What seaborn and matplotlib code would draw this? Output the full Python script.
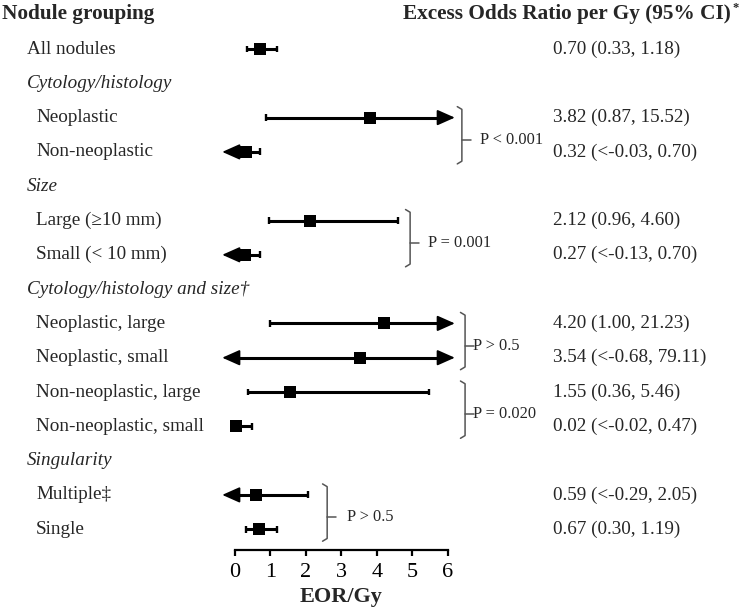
import numpy as np
import matplotlib
matplotlib.use("Agg")
import matplotlib.pyplot as plt
import matplotlib.transforms as mtransforms
import seaborn as sns

# rows of the forest plot (top to bottom)
row_labels = [
    "All nodules", "Cytology/histology", "Neoplastic", "Non-neoplastic",
    "Size", "Large (\u226510 mm)", "Small (< 10 mm)",
    "Cytology/histology and size\u2020", "Neoplastic, large", "Neoplastic, small",
    "Non-neoplastic, large", "Non-neoplastic, small",
    "Singularity", "Multiple\u2021", "Single",
]
is_header = [False, True, False, False, True, False, False, True,
             False, False, False, False, True, False, False]
nan = np.nan
eor = [0.70, nan, 3.82, 0.32, nan, 2.12, 0.27, nan, 4.20, 3.54, 1.55, 0.02, nan, 0.59, 0.67]
ci_lo = [0.33, nan, 0.87, -0.03, nan, 0.96, -0.13, nan, 1.00, -0.68, 0.36, -0.02, nan, -0.29, 0.30]
ci_hi = [1.18, nan, 15.52, 0.70, nan, 4.60, 0.70, nan, 21.23, 79.11, 5.46, 0.47, nan, 2.05, 1.19]
lo_is_bound = [False, False, False, True, False, False, True, False,
               False, True, False, True, False, True, False]
# left arrows drawn in the figure (non-neoplastic small has none)
arrow_left = [False, False, False, True, False, False, True, False,
              False, True, False, False, False, True, False]

# p-value brackets: (first row, second row, bracket x, text x, text)
p_groups = [
    (2, 3, 6.40, 6.91, "P < 0.001"),
    (5, 6, 4.94, 5.44, "P = 0.001"),
    (8, 9, 6.49, 6.71, "P > 0.5"),
    (10, 11, 6.49, 6.71, "P = 0.020"),
    (13, 14, 2.60, 3.16, "P > 0.5"),
]

sns.set_style("white")
serif = ["Liberation Serif", "DejaVu Serif"]
plt.rcParams["font.family"] = serif

W, H = 742, 616
fig = plt.figure(figsize=(W / 100, H / 100), dpi=100)
ax = fig.add_axes([0, 0, 1, 1])
ax.patch.set_alpha(0)

px_unit = 35.45
x0_px = 235
row0_px, row_step = 49, 34.3


def row_y(px):
    return (px - row0_px) / row_step


ax.set_xlim(-x0_px / px_unit, (W - x0_px) / px_unit)
ax.set_ylim(row_y(H), row_y(0))

lw = 2.2
x_min_tip, x_max_tip, x_max = -0.36, 6.2, 6.0
arrow_kw = dict(arrowstyle="-|>,head_length=0.9,head_width=0.4", mutation_scale=12,
                color="black", lw=1.3, shrinkA=0, shrinkB=0)

for i in range(len(row_labels)):
    if is_header[i]:
        continue
    lo, hi = ci_lo[i], ci_hi[i]
    left = x_min_tip + 0.3 if arrow_left[i] else lo
    right = x_max_tip - 0.3 if hi > x_max else hi
    ax.hlines(i, left, right, color="black", lw=lw, zorder=2)
    if arrow_left[i]:
        ax.annotate("", xy=(x_min_tip, i), xytext=(left + 0.05, i), arrowprops=arrow_kw)
    else:
        ax.vlines(lo, i - 0.1, i + 0.1, color="black", lw=1.7)
    if hi > x_max:
        ax.annotate("", xy=(x_max_tip, i), xytext=(right - 0.05, i), arrowprops=arrow_kw)
    else:
        ax.vlines(hi, i - 0.1, i + 0.1, color="black", lw=1.7)

rows_idx = np.arange(len(row_labels))
sns.scatterplot(x=eor, y=rows_idx, marker="s", s=64, color="black",
                edgecolor="black", linewidth=0, ax=ax, legend=False, zorder=3)

# brackets
gray = "#555555"
for a, b, bx, tx, ptxt in p_groups:
    top, bot = a - 0.27, b + 0.3
    mid = (a + b) / 2 + 0.15
    hook = 0.13
    ax.plot([bx - hook, bx, bx, bx - hook], [top - 0.05, top + 0.03, bot - 0.03, bot + 0.05],
            color=gray, lw=1.1, solid_capstyle="round")
    ax.plot([bx, bx + 0.25], [mid, mid], color=gray, lw=1.1)
    ax.text(tx, mid, ptxt, fontsize=11.8, va="center", ha="left")

# axis
for s in ["top", "left", "right"]:
    ax.spines[s].set_visible(False)
ax.spines["bottom"].set_position(("data", row_y(550)))
ax.spines["bottom"].set_bounds(0, 6)
ax.spines["bottom"].set_linewidth(1.6)
ax.spines["bottom"].set_color("black")
ax.set_yticks([])
ax.set_xticks(range(7))
ax.tick_params(axis="x", direction="out", length=4.5, width=1.6, pad=5,
               labelsize=16, colors="black", bottom=True)
ax.text(3, row_y(597), "EOR/Gy", fontsize=16, fontweight="bold", ha="center", va="center")

# text columns
blend = mtransforms.blended_transform_factory(ax.transAxes, ax.transData)
for i, lab in enumerate(row_labels):
    if is_header[i]:
        ax.text(27 / W, i, lab, transform=blend, fontsize=13.8, style="italic", va="center")
    else:
        xpx = 27 if i == 0 else 36
        ax.text(xpx / W, i, lab, transform=blend, fontsize=13.8, va="center")
        lo_txt = ("<" if lo_is_bound[i] else "") + f"{ci_lo[i]:.2f}"
        ax.text(553 / W, i, f"{eor[i]:.2f} ({lo_txt}, {ci_hi[i]:.2f})", transform=blend,
                fontsize=13.8, va="center")

ax.text(2 / W, row_y(14), "Nodule grouping", transform=blend, fontsize=15.3,
        fontweight="bold", va="center")
ax.text(731 / W, row_y(14), "Excess Odds Ratio per Gy (95% CI)", transform=blend,
        fontsize=15.3, fontweight="bold", va="center", ha="right")
ax.text(732 / W, row_y(8), "*", transform=blend, fontsize=9, fontweight="bold",
        va="center", ha="left")

fig.savefig("out.png", dpi=100)
